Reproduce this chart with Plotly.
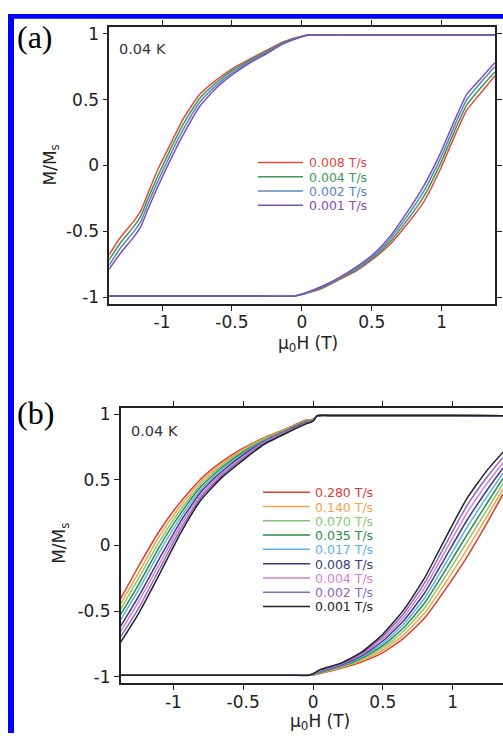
import plotly.graph_objects as go

# ---------------- panel (a): sweep rates 0.008 ... 0.001 T/s ----------------
rates_a = ["0.008 T/s", "0.004 T/s", "0.002 T/s", "0.001 T/s"]
colors_a = ["#e04a3f", "#3d9a50", "#5b84c8", "#7a52b3"]

# field decreasing from +saturation (upper branch)
h_down_a = [-1.38, -1.30, -1.20, -1.15, -1.10, -1.03, -0.95, -0.85, -0.73,
            -0.61, -0.49, -0.37, -0.25, -0.13, -0.01, 0.05, 0.40, 0.90, 1.38]
m_down_a = [
    [-0.68, -0.55, -0.42, -0.34, -0.21, -0.03, 0.14, 0.35, 0.54, 0.65, 0.74, 0.81, 0.875, 0.94, 0.98, 0.99, 0.99, 0.99, 0.99],
    [-0.72, -0.59, -0.46, -0.38, -0.25, -0.08, 0.10, 0.31, 0.51, 0.63, 0.725, 0.80, 0.865, 0.935, 0.978, 0.99, 0.99, 0.99, 0.99],
    [-0.76, -0.63, -0.50, -0.42, -0.29, -0.12, 0.06, 0.27, 0.48, 0.61, 0.71, 0.79, 0.858, 0.93, 0.976, 0.99, 0.99, 0.99, 0.99],
    [-0.79, -0.67, -0.54, -0.46, -0.33, -0.16, 0.02, 0.23, 0.45, 0.59, 0.695, 0.78, 0.85, 0.925, 0.974, 0.99, 0.99, 0.99, 0.99],
]

# field increasing from -saturation (lower branch)
h_up_a = [-1.38, -0.90, -0.40, -0.05, 0.03, 0.15, 0.27, 0.39, 0.51, 0.63, 0.75, 0.87, 0.99, 1.10, 1.18, 1.28, 1.38]
m_up_a = [
    [-0.99, -0.99, -0.99, -0.99, -0.97, -0.93, -0.865, -0.80, -0.71, -0.60, -0.45, -0.28, -0.03, 0.24, 0.42, 0.55, 0.68],
    [-0.99, -0.99, -0.99, -0.99, -0.97, -0.925, -0.86, -0.79, -0.70, -0.58, -0.42, -0.24, 0.01, 0.28, 0.46, 0.59, 0.71],
    [-0.99, -0.99, -0.99, -0.99, -0.97, -0.92, -0.855, -0.78, -0.69, -0.56, -0.39, -0.20, 0.05, 0.32, 0.50, 0.63, 0.75],
    [-0.99, -0.99, -0.99, -0.99, -0.965, -0.915, -0.85, -0.77, -0.675, -0.54, -0.36, -0.16, 0.09, 0.36, 0.54, 0.66, 0.78],
]

# ---------------- panel (b): sweep rates 0.280 ... 0.001 T/s ----------------
rates_b = ["0.280 T/s", "0.140 T/s", "0.070 T/s", "0.035 T/s", "0.017 T/s",
           "0.008 T/s", "0.004 T/s", "0.002 T/s", "0.001 T/s"]
colors_b = ["#e03a2e", "#f5a347", "#86c773", "#2e8b45", "#5fb0e8",
            "#3b3d7a", "#d67fd0", "#8b66c9", "#222222"]

h_down_b = [-1.38, -1.25, -1.10, -0.95, -0.80, -0.65, -0.50, -0.35, -0.20, -0.05, 0.00, 0.03,
            0.15, 0.60, 1.00, 1.38]
m_down_b = [
    [-0.41, -0.16, 0.11, 0.33, 0.51, 0.64, 0.74, 0.82, 0.885, 0.955, 0.960, 0.987, 0.988, 0.988, 0.988, 0.987],
    [-0.45, -0.21, 0.07, 0.30, 0.49, 0.625, 0.73, 0.815, 0.880, 0.951, 0.958, 0.987, 0.988, 0.988, 0.988, 0.987],
    [-0.49, -0.25, 0.03, 0.27, 0.47, 0.61, 0.72, 0.81, 0.875, 0.947, 0.956, 0.987, 0.988, 0.988, 0.988, 0.987],
    [-0.53, -0.30, -0.01, 0.24, 0.45, 0.595, 0.71, 0.80, 0.872, 0.944, 0.954, 0.987, 0.988, 0.988, 0.988, 0.987],
    [-0.57, -0.34, -0.05, 0.21, 0.43, 0.58, 0.70, 0.795, 0.868, 0.940, 0.952, 0.987, 0.988, 0.988, 0.988, 0.987],
    [-0.62, -0.39, -0.10, 0.18, 0.41, 0.565, 0.69, 0.79, 0.864, 0.937, 0.950, 0.987, 0.988, 0.988, 0.988, 0.987],
    [-0.66, -0.43, -0.14, 0.15, 0.39, 0.55, 0.675, 0.785, 0.860, 0.933, 0.948, 0.987, 0.988, 0.988, 0.988, 0.987],
    [-0.70, -0.48, -0.18, 0.12, 0.37, 0.535, 0.665, 0.775, 0.855, 0.929, 0.946, 0.987, 0.988, 0.988, 0.988, 0.987],
    [-0.74, -0.52, -0.22, 0.09, 0.35, 0.52, 0.65, 0.77, 0.850, 0.925, 0.945, 0.987, 0.988, 0.988, 0.988, 0.987],
]

h_up_b = [-1.38, -1.00, -0.60, -0.15, -0.03, 0.00, 0.05, 0.20, 0.35, 0.50, 0.65, 0.80, 0.95, 1.10, 1.25, 1.36]
m_up_b = [
    [-0.987, -0.988, -0.988, -0.988, -0.987, -0.986, -0.975, -0.935, -0.885, -0.815, -0.705, -0.550, -0.330, -0.090, 0.180, 0.39],
    [-0.987, -0.988, -0.988, -0.988, -0.987, -0.985, -0.971, -0.930, -0.876, -0.797, -0.678, -0.512, -0.281, -0.034, 0.230, 0.43],
    [-0.987, -0.988, -0.988, -0.988, -0.987, -0.984, -0.968, -0.925, -0.866, -0.780, -0.651, -0.474, -0.233, 0.021, 0.279, 0.47],
    [-0.987, -0.988, -0.988, -0.988, -0.987, -0.983, -0.964, -0.920, -0.857, -0.762, -0.624, -0.436, -0.184, 0.077, 0.329, 0.51],
    [-0.987, -0.988, -0.988, -0.988, -0.987, -0.982, -0.960, -0.915, -0.848, -0.745, -0.598, -0.398, -0.135, 0.133, 0.379, 0.55],
    [-0.987, -0.988, -0.988, -0.988, -0.987, -0.980, -0.956, -0.910, -0.838, -0.727, -0.571, -0.360, -0.086, 0.188, 0.428, 0.59],
    [-0.987, -0.988, -0.988, -0.988, -0.987, -0.979, -0.953, -0.905, -0.829, -0.710, -0.544, -0.321, -0.037, 0.244, 0.478, 0.63],
    [-0.987, -0.988, -0.988, -0.988, -0.987, -0.977, -0.949, -0.900, -0.819, -0.692, -0.517, -0.283, 0.011, 0.300, 0.527, 0.67],
    [-0.987, -0.988, -0.988, -0.988, -0.987, -0.975, -0.945, -0.895, -0.810, -0.675, -0.490, -0.245, 0.060, 0.355, 0.577, 0.71],
]

field_ticks = [-1, -0.5, 0, 0.5, 1]
field_ticktext = ["-1", "-0.5", "0", "0.5", "1"]
mag_ticks = [-1, -0.5, 0, 0.5, 1]
mag_ticktext = ["-1", "-0.5", "0", "0.5", "1"]

W, H = 503, 736
FONT = "DejaVu Sans"


def px(x):
    return x / W


def py(y):
    return 1 - y / H


fig = go.Figure()

for xa, ya, rates, colors, hd, md, hu, mu in [
    ("x", "y", rates_a, colors_a, h_down_a, m_down_a, h_up_a, m_up_a),
    ("x2", "y2", rates_b, colors_b, h_down_b, m_down_b, h_up_b, m_up_b),
]:
    for name, col, mdn, mup in zip(rates, colors, md, mu):
        for hh, mm in ((hd, mdn), (hu, mup)):
            fig.add_trace(go.Scatter(
                x=hh, y=mm, mode="lines", xaxis=xa, yaxis=ya,
                line=dict(color=col, width=1.5, shape="spline", smoothing=0.5),
                name=name, showlegend=False, hoverinfo="skip",
            ))

axis_common = dict(
    showgrid=False, zeroline=False, showline=True, linecolor="#222",
    linewidth=1.5, ticks="outside", ticklen=5, tickwidth=1.2, tickcolor="#222",
    tickfont=dict(family=FONT, size=17, color="#222"),
)

fig.update_layout(
    width=W, height=H,
    margin=dict(l=0, r=0, t=0, b=0),
    paper_bgcolor="white", plot_bgcolor="white",
    showlegend=False,
    xaxis=dict(domain=[px(109.3), px(495)], range=[-1.377, 1.382], anchor="y",
               tickvals=field_ticks, ticktext=field_ticktext, mirror="allticks",
               ticklabelstandoff=-3, **axis_common),
    yaxis=dict(domain=[py(302.7), py(23)], range=[-1.05, 1.053], anchor="x",
               tickvals=mag_ticks, ticktext=mag_ticktext, mirror="allticks", **axis_common),
    xaxis2=dict(domain=[px(120.7), 1.0], range=[-1.377, 1.36], anchor="y2",
                tickvals=field_ticks, ticktext=field_ticktext, mirror="allticks",
                ticklabelstandoff=-3, **axis_common),
    yaxis2=dict(domain=[py(686), py(408)], range=[-1.05, 1.045], anchor="x2",
                tickvals=mag_ticks, ticktext=mag_ticktext, mirror=False, **axis_common),
)

ann = []
shapes = []

# panel letters, temperature and axis titles
for letter, ly in (("(a)", 33), ("(b)", 413)):
    ann.append(dict(x=px(15), y=py(ly), xref="paper", yref="paper", text=letter,
                    showarrow=False, xanchor="left", yanchor="middle",
                    font=dict(family="Liberation Serif", size=32, color="#000")))
for tx, ty in ((117, 45), (129, 431)):
    ann.append(dict(x=px(tx), y=py(ty), xref="paper", yref="paper", text="0.04 K",
                    showarrow=False, xanchor="left", yanchor="middle",
                    font=dict(family=FONT, size=14.5, color="#333")))
for cx, cy in ((308, 343), (320, 725)):
    ann.append(dict(x=px(cx), y=py(cy), xref="paper", yref="paper",
                    text="\u03bc<sub>0</sub>H (T)", showarrow=False,
                    xanchor="center", yanchor="middle", height=18, borderpad=0,
                    font=dict(family=FONT, size=17, color="#222")))
for cx, cy in ((51, 163), (61, 545)):
    ann.append(dict(x=px(cx), y=py(cy), xref="paper", yref="paper",
                    text="M/M<sub>s</sub>", showarrow=False, textangle=-90,
                    xanchor="center", yanchor="middle",
                    font=dict(family=FONT, size=17, color="#222")))

# legends: line sample + coloured label
for rates, colors, x0, x1, tx, y0, dy in (
    (rates_a, colors_a, 258, 303, 308, 160, 14.4),
    (rates_b, colors_b, 263, 310, 314, 493, 14.4),
):
    for i, (name, col) in enumerate(zip(rates, colors)):
        yy = y0 + i * dy
        shapes.append(dict(type="line", xref="paper", yref="paper",
                           x0=px(x0), x1=px(x1), y0=py(yy), y1=py(yy),
                           line=dict(color=col, width=1.5)))
        ann.append(dict(x=px(tx), y=py(yy), xref="paper", yref="paper", text=name,
                        showarrow=False, xanchor="left", yanchor="middle",
                        height=14, borderpad=0,
                        font=dict(family=FONT, size=12.5, color=col)))

# blue frame along the top and left edges
shapes.append(dict(type="rect", xref="paper", yref="paper", x0=px(8), x1=1.0,
                   y0=py(15), y1=py(10), fillcolor="#0000ff", line=dict(width=0)))
shapes.append(dict(type="rect", xref="paper", yref="paper", x0=px(8), x1=px(14),
                   y0=0.0, y1=py(10), fillcolor="#0000ff", line=dict(width=0)))

fig.update_layout(annotations=ann, shapes=shapes)
fig.write_html("out.html")
